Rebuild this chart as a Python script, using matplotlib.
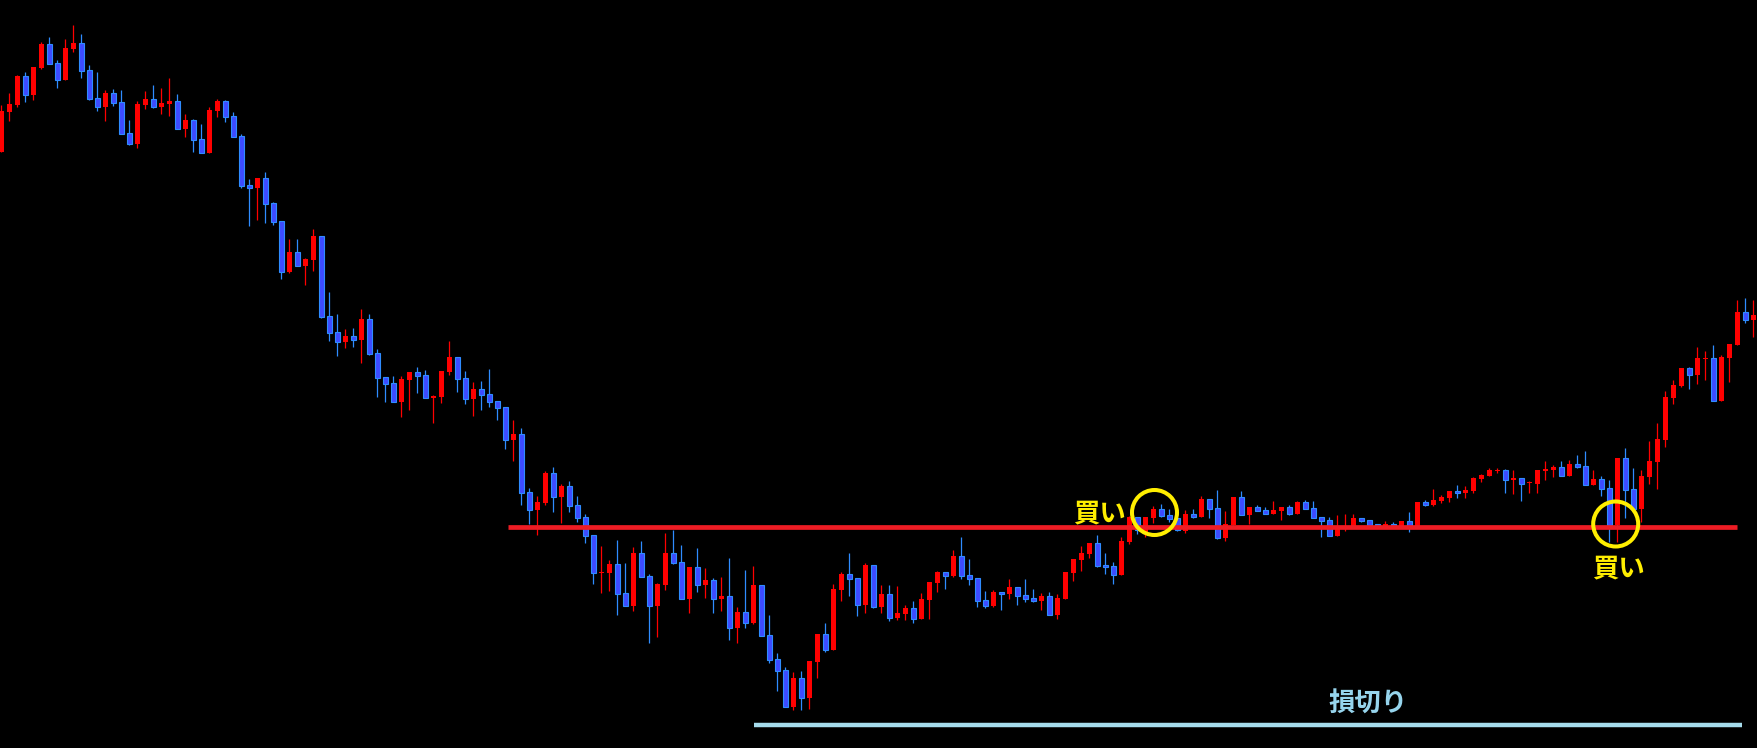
import numpy as np
import matplotlib
matplotlib.use("Agg")
import matplotlib.pyplot as plt

plt.rcParams['font.family'] = ['Noto Sans CJK JP', 'DejaVu Sans']

# candle data (price units)
opens = [848, 888, 895, 924, 905, 932, 956, 937, 920, 951,
         957, 930, 902, 893, 907, 898, 867, 856, 895, 901,
         893, 896, 899, 871, 880, 861, 847, 889, 899, 884,
         864, 815, 812, 822, 797, 779, 728, 748, 734, 740,
         764, 684, 668, 658, 664, 660, 681, 647, 623, 617,
         598, 620, 628, 625, 602, 603, 628, 643, 622, 601,
         611, 606, 599, 593, 560, 566, 508, 490, 497, 527,
         503, 514, 495, 483, 465, 427, 427, 436, 407, 394,
         447, 424, 394, 415, 447, 438, 401, 433, 415, 420,
         401, 404, 372, 388, 377, 415, 365, 341, 330, 293,
         322, 302, 338, 366, 350, 410, 426, 422, 395, 435,
         393, 406, 382, 386, 392, 381, 400, 417, 428, 424,
         444, 425, 422, 400, 394, 408, 406, 413, 405, 402,
         399, 404, 385, 401, 427, 440, 446, 457, 435, 434,
         425, 458, 483, 468, 482, 491, 485, 482, 469, 486,
         483, 501, 492, 462, 475, 503, 485, 493, 490, 486,
         489, 493, 486, 498, 492, 483, 480, 464, 472, 474,
         482, 480, 476, 474, 476, 474, 479, 474, 498, 495,
         499, 502, 509, 507, 509, 521, 524, 529, 530, 520,
         522, 517, 516, 529, 530, 533, 524, 536, 534, 515,
         521, 512, 475, 542, 511, 491, 523, 538, 560, 602,
         614, 632, 625, 641, 642, 599, 642, 655, 688, 680]
highs = [895, 907, 925, 928, 933, 958, 963, 940, 961, 975,
         966, 935, 928, 910, 911, 910, 880, 899, 909, 915,
         912, 922, 906, 886, 881, 876, 893, 901, 900, 888,
         866, 821, 822, 828, 798, 779, 761, 761, 742, 771,
         764, 708, 686, 671, 672, 691, 686, 651, 623, 624,
         624, 628, 633, 630, 605, 629, 659, 643, 629, 618,
         619, 631, 599, 593, 580, 572, 512, 504, 529, 533,
         516, 519, 504, 486, 465, 454, 440, 460, 437, 453,
         459, 426, 417, 467, 470, 455, 433, 452, 432, 422,
         423, 442, 393, 430, 434, 415, 385, 347, 333, 328,
         329, 339, 366, 377, 416, 428, 447, 422, 437, 435,
         415, 415, 414, 395, 399, 407, 418, 429, 428, 450,
         463, 441, 422, 409, 410, 408, 421, 413, 421, 411,
         407, 408, 406, 428, 441, 454, 457, 465, 447, 438,
         463, 484, 483, 483, 494, 496, 491, 482, 490, 491,
         504, 501, 510, 489, 503, 509, 493, 495, 493, 499,
         493, 495, 499, 500, 499, 483, 483, 485, 486, 486,
         482, 480, 476, 479, 478, 479, 488, 498, 500, 511,
         505, 509, 515, 514, 523, 526, 532, 532, 531, 530,
         522, 519, 530, 539, 535, 539, 540, 545, 549, 530,
         524, 520, 542, 552, 532, 530, 559, 577, 609, 620,
         632, 633, 653, 649, 655, 645, 656, 700, 702, 700]
lows = [848, 879, 893, 898, 900, 931, 936, 912, 920, 948,
        922, 900, 889, 879, 894, 866, 855, 852, 891, 892,
        886, 884, 871, 863, 848, 847, 847, 883, 878, 863,
        812, 774, 780, 777, 775, 721, 727, 734, 715, 729,
        682, 659, 644, 652, 653, 637, 645, 603, 598, 598,
        583, 590, 607, 602, 577, 597, 625, 608, 596, 584,
        590, 593, 580, 551, 539, 495, 476, 465, 495, 488,
        477, 488, 478, 457, 416, 407, 409, 385, 394, 389,
        423, 357, 363, 410, 436, 401, 387, 408, 402, 387,
        389, 360, 357, 372, 376, 364, 337, 309, 293, 290,
        290, 291, 322, 348, 350, 399, 404, 384, 387, 392,
        387, 379, 380, 380, 377, 381, 381, 408, 411, 423,
        421, 415, 393, 392, 393, 390, 401, 395, 398, 398,
        390, 385, 381, 401, 419, 429, 442, 433, 426, 416,
        425, 456, 466, 463, 477, 483, 478, 469, 467, 482,
        483, 482, 461, 459, 475, 485, 476, 489, 486, 486,
        480, 485, 486, 491, 482, 463, 464, 464, 469, 474,
        478, 475, 474, 474, 474, 474, 468, 474, 494, 494,
        497, 498, 502, 502, 507, 518, 524, 527, 507, 506,
        499, 507, 507, 520, 523, 524, 524, 532, 515, 515,
        504, 458, 458, 482, 491, 478, 516, 511, 553, 596,
        613, 611, 616, 620, 599, 599, 618, 655, 677, 663]
closes = [889, 896, 924, 905, 933, 956, 936, 920, 952, 957,
          929, 901, 893, 907, 897, 866, 856, 896, 901, 893,
          897, 899, 871, 880, 860, 847, 890, 899, 883, 863,
          814, 812, 822, 796, 778, 728, 748, 734, 741, 764,
          683, 667, 658, 664, 660, 681, 646, 622, 616, 598,
          621, 628, 624, 602, 604, 629, 643, 621, 601, 611,
          605, 598, 592, 560, 566, 507, 490, 498, 527, 503,
          514, 494, 482, 464, 427, 428, 436, 406, 394, 447,
          423, 394, 416, 447, 437, 401, 433, 415, 420, 401,
          404, 372, 388, 377, 415, 364, 340, 329, 293, 322,
          302, 339, 366, 350, 411, 426, 421, 395, 435, 393,
          406, 382, 387, 392, 381, 401, 418, 428, 424, 444,
          424, 421, 399, 394, 408, 406, 413, 404, 401, 399,
          404, 385, 402, 428, 441, 447, 457, 434, 433, 425,
          459, 483, 470, 483, 491, 484, 481, 470, 486, 483,
          501, 491, 462, 476, 503, 485, 493, 489, 486, 490,
          493, 486, 498, 491, 482, 479, 464, 472, 473, 482,
          479, 475, 474, 476, 474, 479, 474, 498, 495, 500,
          503, 509, 507, 510, 522, 525, 530, 530, 520, 522,
          516, 518, 530, 531, 533, 524, 536, 533, 515, 521,
          511, 475, 542, 510, 491, 524, 539, 561, 603, 615,
          632, 625, 642, 642, 599, 643, 656, 688, 680, 685]

# annotation levels
entry_level = 473
stop_level = 275
buy_label = "買い"
stop_label = "損切り"

o = np.array(opens)
h = np.array(highs)
l = np.array(lows)
c = np.array(closes)
x = np.arange(len(o))
up = c >= o

RED = '#ff0000'
BLUE_FILL = '#3d4bff'
BLUE_EDGE = '#2f8cff'
YELLOW = '#ffee00'
SKY = '#96d4ec'

fig = plt.figure(figsize=(17.57, 7.48), dpi=100, facecolor='black')
ax = fig.add_axes([0, 0, 1, 1])
ax.set_facecolor('black')

# wicks
ax.vlines(x[up], l[up], h[up], color=RED, lw=0.9, zorder=2)
ax.vlines(x[~up], l[~up], h[~up], color=BLUE_EDGE, lw=0.9, zorder=2)

# bodies
body_lo = np.minimum(o, c)
body_h = np.maximum(np.abs(c - o), 1.2)
ax.bar(x[up], body_h[up], bottom=body_lo[up], width=0.6,
       color=RED, linewidth=0, zorder=3)
ax.bar(x[~up], body_h[~up], bottom=body_lo[~up], width=0.6,
       color=BLUE_FILL, edgecolor=BLUE_EDGE, linewidth=0.8, zorder=3)

# entry / stop lines
ax.hlines(entry_level, 63.3, 217.0, color='#ee1c24', lw=3.4, zorder=4)
ax.hlines(stop_level, 94.1, 217.6, color='#a6dcec', lw=3.2, zorder=4)

# buy markers
ax.scatter([144.15, 201.8], [487.5, 476], s=1050, facecolors='none',
           edgecolors=YELLOW, linewidths=2.9, zorder=5)
ax.text(137.3, 486.5, buy_label, color=YELLOW, fontsize=19,
        fontweight='bold', ha='center', va='center', zorder=6)
ax.text(202.2, 431, buy_label, color=YELLOW, fontsize=19,
        fontweight='bold', ha='center', va='center', zorder=6)
ax.text(170.8, 296, stop_label, color=SKY, fontsize=19,
        fontweight='bold', ha='center', va='center', zorder=6)

ax.set_xlim(-0.1625, -0.1625 + 1757 / 8)
ax.set_ylim(252, 1000)
ax.axis('off')

fig.savefig('out.png', dpi=100, facecolor='black')
